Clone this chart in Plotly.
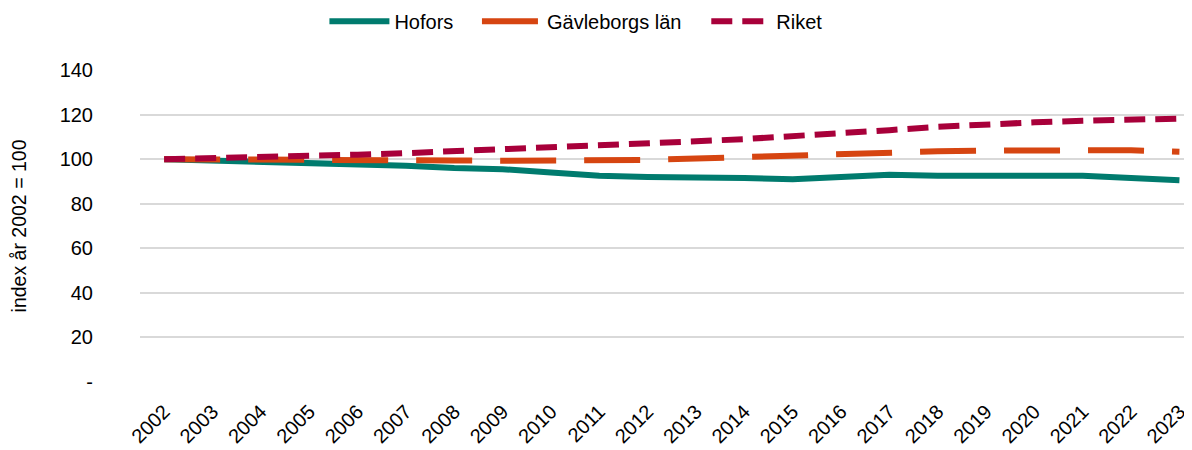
import plotly.graph_objects as go

AR = ["2002", "2003", "2004", "2005", "2006", "2007", "2008", "2009", "2010", "2011", "2012",
      "2013", "2014", "2015", "2016", "2017", "2018", "2019", "2020", "2021", "2022", "2023"]

HOFORS = [100, 99.5, 98.5, 98, 97.5, 97, 96, 95.5, 94, 92.5, 92,
          92, 91.5, 91, 92, 93, 92.5, 92.5, 92.5, 92.5, 91.5, 90.5]
GAVLEBORG = [100, 100, 99.6, 99.5, 99.5, 99.5, 99.4, 99.3, 99.3, 99.3, 99.6,
             100.3, 101, 101.8, 102.5, 103.2, 103.5, 103.8, 104, 104.2, 104, 103.3]
RIKET = [100, 100.4, 100.8, 101.3, 102, 102.7, 103.5, 104.2, 105, 105.8, 106.8,
         108, 109, 110.2, 111.6, 113, 114.5, 115.8, 116.5, 117.2, 117.8, 118.2]

Y_TICKS = [0, 20, 40, 60, 80, 100, 120, 140]
Y_TEXT = ["-", "20", "40", "60", "80", "100", "120", "140"]

COR_HOFORS = "#007B6E"
COR_LAN = "#D64511"
COR_RIKET = "#A8003A"

fig = go.Figure()
fig.add_trace(go.Scatter(x=AR, y=HOFORS, name="Hofors", mode="lines", legend="legend",
                         line=dict(color=COR_HOFORS, width=6)))
fig.add_trace(go.Scatter(x=AR, y=GAVLEBORG, name="Gävleborgs län", mode="lines", legend="legend2",
                         line=dict(color=COR_LAN, width=6, dash="56px,28px")))
fig.add_trace(go.Scatter(x=AR, y=RIKET, name="Riket", mode="lines", legend="legend3",
                         line=dict(color=COR_RIKET, width=6, dash="21px,10px")))

LEG = dict(orientation="h", xanchor="left", y=1.156, yanchor="middle",
           itemwidth=60, font=dict(size=20), bgcolor="rgba(0,0,0,0)")

# sidan har 8 px marginal i body, därför 1184x442
fig.update_layout(
    width=1184, height=442,
    paper_bgcolor="white", plot_bgcolor="white",
    font=dict(family="Liberation Sans, Arial, sans-serif", size=20, color="#000000"),
    margin=dict(l=132, r=0, t=62, b=68, autoexpand=False),
    showlegend=True,
    legend=dict(LEG, x=0.1753),
    legend2=dict(LEG, x=0.3203),
    legend3=dict(LEG, x=0.5383),
    xaxis=dict(type="category", range=[-0.5, 21.26], tickangle=-45,
               tickmode="array", tickvals=AR, ticktext=AR,
               ticks="outside", ticklen=9, tickcolor="rgba(0,0,0,0)",
               showgrid=False, showline=False, tickfont=dict(size=20)),
    yaxis=dict(range=[0, 140], tickvals=Y_TICKS, ticktext=Y_TEXT,
               showgrid=True, gridcolor="#D9D9D9", gridwidth=1.5,
               zeroline=False, showline=False, ticks="",
               ticklabelstandoff=46, tickfont=dict(size=20),
               title=dict(text="index år 2002 = 100", font=dict(size=19.5), standoff=30)),
)

fig.write_html("out.html")
